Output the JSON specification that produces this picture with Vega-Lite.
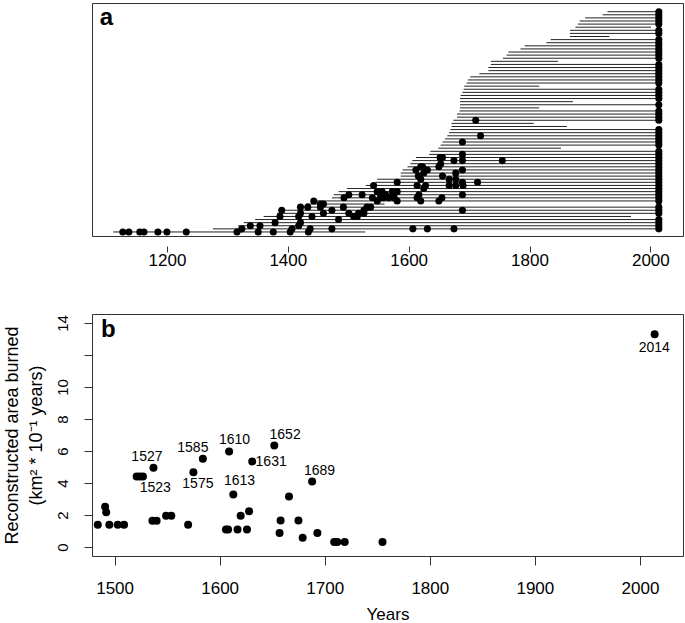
{
  "$schema": "https://vega.github.io/schema/vega-lite/v6.json",
  "padding": {"left": 2, "top": 2, "right": 2, "bottom": 0},
  "spacing": 44,
  "config": {
    "view": {"stroke": "#333", "strokeWidth": 1},
    "font": "Liberation Sans",
    "axis": {"domain": false, "grid": false, "tickColor": "#333", "labelColor": "#000", "titleColor": "#000", "labelFont": "Liberation Sans", "titleFont": "Liberation Sans", "titleFontWeight": "normal", "labelOverlap": false}
  },
  "datasets": {
    "series": [
      {"id":1,"start":1111,"end":1528},{"id":2,"start":1276,"end":2014},{"id":3,"start":1318,"end":2014},{"id":4,"start":1327,"end":2014},
      {"id":5,"start":1346,"end":2014},{"id":6,"start":1360,"end":1968},{"id":7,"start":1382,"end":2014},{"id":8,"start":1385,"end":2014},
      {"id":9,"start":1418,"end":2014},{"id":10,"start":1430,"end":1560},{"id":11,"start":1443,"end":2014},{"id":12,"start":1473,"end":2014},
      {"id":13,"start":1476,"end":2014},{"id":14,"start":1484,"end":2014},{"id":15,"start":1498,"end":2014},{"id":16,"start":1529,"end":2014},
      {"id":17,"start":1545,"end":2014},{"id":18,"start":1548,"end":2014},{"id":19,"start":1587,"end":2014},{"id":20,"start":1587,"end":2014},
      {"id":21,"start":1590,"end":2014},{"id":22,"start":1598,"end":2014},{"id":23,"start":1603,"end":2014},{"id":24,"start":1606,"end":2014},
      {"id":25,"start":1612,"end":2014},{"id":26,"start":1634,"end":2014},{"id":27,"start":1636,"end":2014},{"id":28,"start":1649,"end":1852},
      {"id":29,"start":1653,"end":2014},{"id":30,"start":1656,"end":2014},{"id":31,"start":1660,"end":2014},{"id":32,"start":1664,"end":2014},
      {"id":33,"start":1667,"end":2014},{"id":34,"start":1669,"end":2014},{"id":35,"start":1671,"end":1862},{"id":36,"start":1671,"end":1807},
      {"id":37,"start":1674,"end":2014},{"id":38,"start":1680,"end":2014},{"id":39,"start":1680,"end":2014},{"id":40,"start":1684,"end":2014},
      {"id":41,"start":1685,"end":1816},{"id":42,"start":1685,"end":2014},{"id":43,"start":1685,"end":1872},{"id":44,"start":1685,"end":2014},
      {"id":45,"start":1686,"end":2014},{"id":46,"start":1689,"end":2014},{"id":47,"start":1691,"end":2014},{"id":48,"start":1692,"end":1816},
      {"id":49,"start":1696,"end":2014},{"id":50,"start":1698,"end":2014},{"id":51,"start":1702,"end":2014},{"id":52,"start":1717,"end":2014},
      {"id":53,"start":1732,"end":2014},{"id":54,"start":1732,"end":2014},{"id":55,"start":1736,"end":2014},{"id":56,"start":1736,"end":1847},
      {"id":57,"start":1756,"end":2014},{"id":58,"start":1762,"end":2014},{"id":59,"start":1765,"end":2014},{"id":60,"start":1785,"end":2014},
      {"id":61,"start":1792,"end":2014},{"id":62,"start":1828,"end":2014},{"id":63,"start":1835,"end":2014},{"id":64,"start":1867,"end":1932},
      {"id":65,"start":1867,"end":2014},{"id":66,"start":1867,"end":2014},{"id":67,"start":1876,"end":2001},{"id":68,"start":1880,"end":2014},
      {"id":69,"start":1883,"end":2014},{"id":70,"start":1892,"end":2014},{"id":71,"start":1921,"end":2014},{"id":72,"start":1929,"end":2014}
    ],
    "scars": [
      {"id":1,"year":1127},{"id":1,"year":1137},{"id":1,"year":1155},{"id":1,"year":1162},{"id":1,"year":1185},{"id":1,"year":1200},{"id":1,"year":1232},{"id":1,"year":1316},{"id":1,"year":1351},{"id":1,"year":1376},{"id":1,"year":1404},{"id":1,"year":1434},
      {"id":2,"year":1324},{"id":2,"year":1407},{"id":2,"year":1437},{"id":2,"year":1473},{"id":2,"year":1607},{"id":2,"year":1631},{"id":2,"year":1675},
      {"id":3,"year":1338},{"id":3,"year":1354},{"id":3,"year":1418},
      {"id":4,"year":1379},{"id":4,"year":1421},
      {"id":5,"year":1484},
      {"id":6,"year":1387},{"id":6,"year":1418},{"id":6,"year":1440},{"id":6,"year":1509},{"id":6,"year":1515},
      {"id":7,"year":1421},{"id":7,"year":1459},{"id":7,"year":1501},{"id":7,"year":1517},{"id":7,"year":1526},
      {"id":8,"year":1390},{"id":8,"year":1473},{"id":8,"year":1526},{"id":8,"year":1689},
      {"id":9,"year":1421},{"id":9,"year":1433},{"id":9,"year":1454},{"id":9,"year":1492},{"id":9,"year":1531},{"id":9,"year":1537},
      {"id":10,"year":1454},{"id":10,"year":1459},
      {"id":11,"year":1443},{"id":11,"year":1548},{"id":11,"year":1581},{"id":11,"year":1620},{"id":11,"year":1650},
      {"id":12,"year":1493},{"id":12,"year":1540},{"id":12,"year":1553},{"id":12,"year":1558},{"id":12,"year":1567},{"id":12,"year":1576},{"id":12,"year":1614},{"id":12,"year":1655},
      {"id":13,"year":1501},{"id":13,"year":1523},{"id":13,"year":1562},{"id":13,"year":1575},{"id":13,"year":1617},{"id":13,"year":1689},
      {"id":14,"year":1548},{"id":14,"year":1556},{"id":14,"year":1573},{"id":14,"year":1581},
      {"id":15,"year":1625},
      {"id":16,"year":1542},{"id":16,"year":1614},{"id":16,"year":1628},{"id":16,"year":1667},{"id":16,"year":1678},{"id":16,"year":1690},
      {"id":17,"year":1581},{"id":17,"year":1689},{"id":17,"year":1714},
      {"id":18,"year":1620},{"id":18,"year":1667},{"id":18,"year":1678},
      {"id":19,"year":1616},{"id":19,"year":1656},
      {"id":20,"year":1625},{"id":20,"year":1678},
      {"id":21,"year":1612},{"id":21,"year":1631},{"id":21,"year":1689},
      {"id":22,"year":1620},{"id":22,"year":1623},{"id":22,"year":1650},
      {"id":23,"year":1653},
      {"id":24,"year":1675},{"id":24,"year":1689},{"id":24,"year":1755},
      {"id":25,"year":1652},{"id":25,"year":1656},
      {"id":26,"year":1689},
      {"id":30,"year":1689},
      {"id":32,"year":1719},
      {"id":37,"year":1711}
    ],
    "burn": [
      {"year":1484,"area":1.39},{"year":1491,"area":2.52},{"year":1492,"area":2.18},{"year":1495,"area":1.39},{"year":1503,"area":1.39},{"year":1509,"area":1.39},
      {"year":1521,"area":4.41},{"year":1524,"area":4.41},{"year":1527,"area":4.41},{"year":1537,"area":4.95},{"year":1536,"area":1.64},{"year":1540,"area":1.64},
      {"year":1549,"area":1.95},{"year":1554,"area":1.95},{"year":1570,"area":1.39},{"year":1575,"area":4.68},{"year":1584,"area":5.51},
      {"year":1606,"area":1.10},{"year":1608,"area":1.10},{"year":1609,"area":5.97},{"year":1613,"area":3.29},{"year":1617,"area":1.10},{"year":1620,"area":1.95},
      {"year":1626,"area":1.10},{"year":1628,"area":2.23},{"year":1631,"area":5.35},{"year":1652,"area":6.35},{"year":1657,"area":0.87},{"year":1658,"area":1.66},
      {"year":1666,"area":3.16},{"year":1675,"area":1.66},{"year":1679,"area":0.58},{"year":1688,"area":4.10},{"year":1693,"area":0.87},
      {"year":1709,"area":0.31},{"year":1712,"area":0.31},{"year":1719,"area":0.31},{"year":1755,"area":0.31},{"year":2014,"area":13.3}
    ],
    "labels": [
      {"year":1530.8,"area":5.62,"label":"1527"},{"year":1538.7,"area":3.68,"label":"1523"},{"year":1574.5,"area":6.18,"label":"1585"},
      {"year":1579.3,"area":3.95,"label":"1575"},{"year":1614.1,"area":6.66,"label":"1610"},{"year":1618.9,"area":4.10,"label":"1613"},
      {"year":1649,"area":5.31,"label":"1631"},{"year":1662.3,"area":7.01,"label":"1652"},{"year":1695,"area":4.74,"label":"1689"},
      {"year":2013.6,"area":12.42,"label":"2014"}
    ]
  },
  "vconcat": [
    {
      "width": 591,
      "height": 233,
      "layer": [
        {
          "data": {"name": "series"},
          "mark": {"type": "rule", "color": "#222", "strokeWidth": 1},
          "encoding": {
            "x": {"field": "start", "type": "quantitative", "scale": {"domain": [1076, 2054], "nice": false, "zero": false},
                  "axis": {"values": [1200, 1400, 1600, 1800, 2000], "tickCount": 10, "format": "d", "offset": 10, "tickSize": 6, "labelFontSize": 17, "labelPadding": 0, "title": null}},
            "x2": {"field": "end"},
            "y": {"field": "id", "type": "quantitative", "scale": {"domain": [-0.3, 74.8], "nice": false, "zero": false}, "axis": null}
          }
        },
        {
          "data": {"name": "scars"},
          "mark": {"type": "circle", "color": "#000", "size": 50, "opacity": 1},
          "encoding": {
            "x": {"field": "year", "type": "quantitative"},
            "y": {"field": "id", "type": "quantitative"}
          }
        },
        {
          "data": {"name": "series"},
          "transform": [{"filter": "datum.end == 2014"}],
          "mark": {"type": "circle", "color": "#000", "size": 50, "opacity": 1},
          "encoding": {
            "x": {"field": "end", "type": "quantitative"},
            "y": {"field": "id", "type": "quantitative"}
          }
        },
        {
          "data": {"values": [{"panel": "a"}]},
          "mark": {"type": "text", "fontSize": 24, "fontWeight": "bold", "align": "left", "baseline": "alphabetic", "color": "#000"},
          "encoding": {
            "text": {"field": "panel"},
            "x": {"datum": 1089},
            "y": {"datum": 67.8}
          }
        }
      ]
    },
    {
      "width": 591,
      "height": 242,
      "layer": [
        {
          "data": {"name": "burn"},
          "mark": {"type": "circle", "color": "#000", "size": 64, "opacity": 1},
          "encoding": {
            "x": {"field": "year", "type": "quantitative", "scale": {"domain": [1478.5, 2041], "nice": false, "zero": false},
                  "axis": {"values": [1500, 1600, 1700, 1800, 1900, 2000], "tickCount": 10, "format": "d", "tickSize": 9, "labelFontSize": 17, "labelPadding": 15, "title": "Years", "titleFontSize": 17, "titlePadding": 10}},
            "y": {"field": "area", "type": "quantitative", "scale": {"domain": [-0.56, 14.56], "nice": false, "zero": false},
                  "axis": {"values": [0, 2, 4, 6, 8, 10, 12, 14], "tickCount": 10, "labelExpr": "datum.value == 12 ? '' : datum.label", "labelAngle": -90, "labelFontSize": 15, "tickSize": 8, "labelPadding": 14,
                           "title": ["Reconstructed area burned", "(km² * 10⁻¹ years)"], "titleFontSize": 18, "titleLineHeight": 24, "titlePadding": 10}}
          }
        },
        {
          "data": {"name": "labels"},
          "mark": {"type": "text", "fontSize": 14, "align": "center", "baseline": "middle", "color": "#000"},
          "encoding": {
            "text": {"field": "label"},
            "x": {"field": "year", "type": "quantitative"},
            "y": {"field": "area", "type": "quantitative"}
          }
        },
        {
          "data": {"values": [{"panel": "b"}]},
          "mark": {"type": "text", "fontSize": 24, "fontWeight": "bold", "align": "left", "baseline": "alphabetic", "color": "#000"},
          "encoding": {
            "text": {"field": "panel"},
            "x": {"datum": 1487},
            "y": {"datum": 13.1}
          }
        }
      ]
    }
  ]
}
